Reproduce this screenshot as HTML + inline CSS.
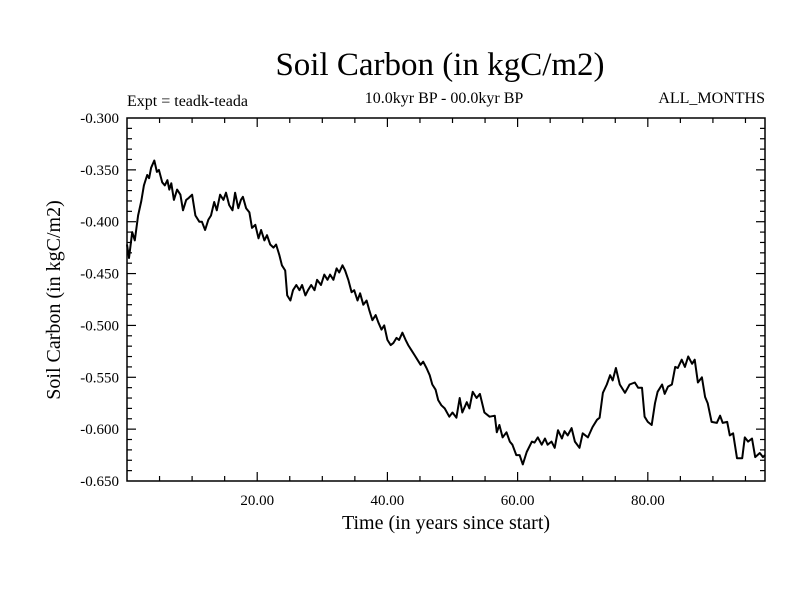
<!DOCTYPE html>
<html><head><meta charset="utf-8"><style>
body{margin:0;background:#fff}
svg{display:block;font-family:"Liberation Serif",serif}
</style></head><body>
<svg id="chart" width="800" height="600" xmlns="http://www.w3.org/2000/svg">
<rect width="800" height="600" fill="#fff"/>
<text x="440" y="75" font-size="33" text-anchor="middle">Soil Carbon (in kgC/m2)</text>
<text x="127" y="106" font-size="16">Expt = teadk-teada</text>
<text x="444" y="103" font-size="16" text-anchor="middle">10.0kyr BP - 00.0kyr BP</text>
<text x="765" y="103" font-size="16" text-anchor="end">ALL_MONTHS</text>
<text x="446" y="529" font-size="20" text-anchor="middle">Time (in years since start)</text>
<text x="0" y="0" font-size="20" text-anchor="middle" transform="translate(60,300) rotate(-90)">Soil Carbon (in kgC/m2)</text>
<g id="axes"></g>
<g id="series"></g>
</svg>
<script>
const times=[0.0,0.3,0.8,1.2,1.7,2.2,2.6,3.1,3.4,3.7,4.2,4.6,4.9,5.4,5.8,6.2,6.5,6.8,7.2,7.7,8.2,8.6,9.1,9.5,10.0,10.5,11.1,11.5,12.0,12.5,12.9,13.4,13.8,14.3,14.8,15.2,15.7,16.2,16.6,17.1,17.5,17.8,18.3,18.8,19.2,19.7,20.2,20.6,21.1,21.5,22.0,22.5,22.9,23.4,23.8,24.3,24.6,25.1,25.5,26.0,26.5,26.9,27.4,27.8,28.3,28.8,29.2,29.8,30.3,30.8,31.2,31.7,32.2,32.6,33.1,33.5,34.0,34.5,34.9,35.4,35.8,36.3,36.8,37.2,37.7,38.2,38.6,39.1,39.5,40.0,40.5,40.9,41.4,41.8,42.3,42.8,43.2,43.7,44.2,44.6,45.1,45.5,46.0,46.5,46.9,47.4,47.8,48.3,
48.8,49.5,50.0,50.6,51.1,51.5,52.2,52.6,53.1,53.7,54.2,54.9,55.7,56.5,56.8,57.2,57.7,58.3,58.8,59.2,59.8,60.3,60.8,61.4,62.2,62.6,63.1,63.7,64.2,64.6,65.2,65.7,66.2,66.8,67.2,67.7,68.3,68.8,69.5,70.0,70.8,71.5,72.2,72.6,73.1,73.7,74.2,74.6,75.1,75.7,76.5,77.2,78.0,78.5,79.1,79.5,80.0,80.6,81.1,81.5,82.2,82.6,83.1,83.7,84.2,84.6,85.2,85.7,86.2,86.8,87.2,87.7,88.3,88.8,89.2,89.8,90.6,91.1,91.5,92.2,92.6,93.1,93.7,94.5,94.9,95.4,96.0,96.5,97.2,97.7,98.0];
const soilCarbon=[-0.422,-0.435,-0.410,-0.418,-0.394,-0.380,-0.365,-0.355,-0.358,-0.348,-0.341,-0.352,-0.350,-0.362,-0.365,-0.360,-0.369,-0.363,-0.379,-0.369,-0.374,-0.389,-0.379,-0.377,-0.374,-0.394,-0.400,-0.400,-0.408,-0.398,-0.394,-0.381,-0.389,-0.374,-0.379,-0.372,-0.384,-0.389,-0.372,-0.387,-0.379,-0.376,-0.387,-0.391,-0.406,-0.403,-0.416,-0.408,-0.418,-0.413,-0.422,-0.425,-0.422,-0.432,-0.442,-0.447,-0.471,-0.476,-0.466,-0.461,-0.466,-0.461,-0.471,-0.466,-0.461,-0.466,-0.456,-0.461,-0.451,-0.456,-0.451,-0.456,-0.445,-0.449,-0.442,-0.447,-0.456,-0.468,-0.466,-0.476,-0.469,-0.480,-0.476,-0.485,-0.495,-0.490,-0.497,-0.504,-0.500,-0.514,-0.519,-0.517,-0.512,-0.514,-0.507,-0.514,-0.519,-0.524,-0.529,-0.533,-0.538,-0.535,-0.541,-0.548,-0.557,-0.562,-0.572,-0.577,
-0.580,-0.588,-0.584,-0.589,-0.570,-0.584,-0.574,-0.580,-0.564,-0.570,-0.566,-0.584,-0.588,-0.587,-0.603,-0.596,-0.608,-0.603,-0.612,-0.615,-0.625,-0.625,-0.634,-0.622,-0.612,-0.613,-0.608,-0.615,-0.609,-0.615,-0.612,-0.618,-0.601,-0.609,-0.602,-0.606,-0.599,-0.612,-0.618,-0.604,-0.608,-0.598,-0.591,-0.589,-0.565,-0.557,-0.548,-0.553,-0.541,-0.557,-0.565,-0.557,-0.555,-0.560,-0.560,-0.588,-0.593,-0.596,-0.575,-0.564,-0.557,-0.566,-0.559,-0.557,-0.540,-0.541,-0.533,-0.540,-0.530,-0.537,-0.533,-0.555,-0.550,-0.569,-0.575,-0.593,-0.594,-0.587,-0.594,-0.593,-0.606,-0.604,-0.628,-0.628,-0.608,-0.612,-0.609,-0.627,-0.623,-0.627,-0.625];
const xTickValues=[20,40,60,80];
const xTickLabels=["20.00","40.00","60.00","80.00"];
const yTickValues=[-0.30,-0.35,-0.40,-0.45,-0.50,-0.55,-0.60,-0.65];
const yTickLabels=["-0.300","-0.350","-0.400","-0.450","-0.500","-0.550","-0.600","-0.650"];

const L=127,R=765,T=118,B=481,X0=0,X1=98,Y0=-0.65,Y1=-0.30;
const xs=t=>L+(t-X0)/(X1-X0)*(R-L);
const ys=v=>B-(v-Y0)/(Y1-Y0)*(B-T);
const NS='http://www.w3.org/2000/svg';
const axes=document.getElementById('axes');
function mk(tag,attrs,parent){const e=document.createElementNS(NS,tag);for(const k in attrs)e.setAttribute(k,attrs[k]);parent.appendChild(e);return e;}
const frame=mk('rect',{x:L,y:T,width:R-L,height:B-T,fill:'none',stroke:'#000','stroke-width':1.5},axes);


// x ticks every 5
for(let t=5;t<X1;t+=5){
  const x=xs(t),len=(t%20===0)?9:5;
  const b=mk('line',{x1:x,y1:B,x2:x,y2:B-len,stroke:'#000','stroke-width':1.2},axes);
  
  
  const tp=mk('line',{x1:x,y1:T,x2:x,y2:T+len,stroke:'#000','stroke-width':1.2},axes);
  
  
}
xTickValues.forEach((v,i)=>{
  const tx=mk('text',{x:xs(v),y:B+24,'font-size':15,'text-anchor':'middle'},axes);
  tx.textContent=xTickLabels[i];
  
  
});
// y ticks every 0.01
for(let k=1;k<35;k++){
  const v=Y0+k*0.01,y=ys(v),len=(k%5===0)?9:5;
  const a=mk('line',{x1:L,y1:y,x2:L+len,y2:y,stroke:'#000','stroke-width':1.2},axes);
  
  
  const r=mk('line',{x1:R,y1:y,x2:R-len,y2:y,stroke:'#000','stroke-width':1.2},axes);
  
  
}
yTickValues.forEach((v,i)=>{
  const tx=mk('text',{x:L-8,y:ys(v)+5,'font-size':15,'text-anchor':'end'},axes);
  tx.textContent=yTickLabels[i];
  
  
});
const d=times.map((t,i)=>(i?'L':'M')+xs(t).toFixed(1)+','+ys(soilCarbon[i]).toFixed(1)).join('');
const line=mk('path',{d:d,fill:'none',stroke:'#000','stroke-width':2,'stroke-linejoin':'round'},document.getElementById('series'));


</script>
</body></html>
